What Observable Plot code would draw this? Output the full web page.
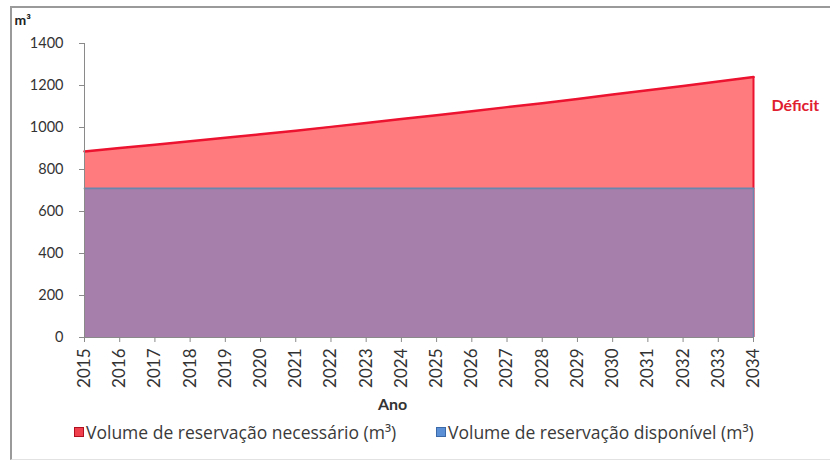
<!DOCTYPE html>
<html><head><meta charset="utf-8">
<script src="https://cdn.jsdelivr.net/npm/d3@7"></script>
<script src="https://cdn.jsdelivr.net/npm/@observablehq/plot@0.6"></script>
<style>
body{margin:0;background:#fff;font-family:Lato, "Open Sans", sans-serif;}
#wrap{position:relative;width:830px;height:467px;overflow:hidden;}
#frame{position:absolute;left:10px;top:6px;width:830px;height:451px;border-top:2px solid #9a9a9a;border-left:2px solid #9a9a9a;border-bottom:1px solid #e2e2e2;}
#chart{position:absolute;left:0;top:0;}
#legend{position:absolute;top:421px;left:0;width:830px;height:22px;font-size:17.5px;font-family:"Open Sans", Lato, sans-serif;color:#3a3a3a;}
.item{position:absolute;top:0;display:flex;align-items:center;height:22px;white-space:nowrap;}
.sw{width:8px;height:8px;margin-right:2px;}
</style></head>
<body><div id="wrap"><div id="frame"></div><div id="chart"></div><div id="legend"></div></div>
<script>
const years = [2015,2016,2017,2018,2019,2020,2021,2022,2023,2024,2025,2026,2027,2028,2029,2030,2031,2032,2033,2034];
const necessario = [886,902,918,934,951,968,985,1003,1021,1040,1058,1077,1097,1116,1136,1157,1177,1198,1219,1240];
const disponivel = [710,710,710,710,710,710,710,710,710,710,710,710,710,710,710,710,710,710,710,710];
const yTicks = [0,200,400,600,800,1000,1200,1400];
const seriesNames = ["Volume de reservação necessário (m³)","Volume de reservação disponível (m³)"];
const redFill = "#ff7b7d", redLine = "#ec1330", purpleFill = "#a67fab", blueLine = "#6a86ad";

const rows = years.map((y,i)=>({ano:y, nec:necessario[i], disp:disponivel[i]}));

const chart = Plot.plot({
  width: 830, height: 415,
  marginLeft: 84, marginRight: 77, marginTop: 43, marginBottom: 78,
  style: {fontFamily: "Lato, 'Open Sans', sans-serif", color: "#333", background: "transparent"},
  x: {type: "linear", domain: [2015, 2034]},
  y: {domain: [0, 1400]},
  marks: [
    Plot.areaY(rows, {x: "ano", y: "nec", fill: redFill}),
    Plot.lineY(rows, {x: "ano", y: "nec", stroke: redLine, strokeWidth: 2.5}),
    Plot.ruleX([2034], {y1: 0, y2: necessario[necessario.length-1], stroke: redLine, strokeWidth: 2}),
    Plot.areaY(rows, {x: "ano", y: "disp", fill: purpleFill}),
    Plot.lineY(rows, {x: "ano", y: "disp", stroke: blueLine, strokeWidth: 1.8}),
    Plot.ruleX([2034], {y1: 0, y2: disponivel[disponivel.length-1], stroke: blueLine, strokeWidth: 1.5}),
    Plot.ruleY([0], {stroke: "#8a8a8a", strokeWidth: 1}),
    Plot.ruleX([2015], {y1: 0, y2: 1400, stroke: "#8a8a8a", strokeWidth: 1}),
    Plot.axisY({ticks: yTicks, tickFormat: d => String(d), tickSize: 5, tickPadding: 16, fontSize: 14.5, stroke: "#8a8a8a", fill: "#333", label: null}),
    Plot.axisX({ticks: years, tickFormat: d => String(d), tickRotate: -90, tickSize: 5, tickPadding: 6, fontSize: 17, stroke: "#8a8a8a", fill: "#333", label: null}),
    Plot.text(["Ano"], {frameAnchor: "bottom", x: 2023.75, dy: 72, fontWeight: "bold", fontSize: 16, fill: "#333"}),
    Plot.text(["m³"], {frameAnchor: "top-left", dx: -70, dy: -28, textAnchor: "start", fontWeight: "bold", fontSize: 14, fill: "#222"}),
    Plot.text(["Déficit"], {x: 2034, y: 1105, dx: 18, textAnchor: "start", fontWeight: "bold", fontSize: 16, fill: "#e0202f"})
  ]
});
document.getElementById("chart").appendChild(chart);

const legend = document.getElementById("legend");
const items = [
  {name: seriesNames[0], left: 74, fill: "#f0404e", border: "#b01020"},
  {name: seriesNames[1], left: 436, fill: "#5b8fd6", border: "#3c6aa8"}
];
for (const it of items) {
  const d = document.createElement("div");
  d.className = "item";
  d.style.left = it.left + "px";
  const s = document.createElement("span");
  s.className = "sw";
  s.style.background = it.fill;
  s.style.border = "1px solid " + it.border;
  d.appendChild(s);
  d.appendChild(document.createTextNode(it.name));
  legend.appendChild(d);
}
</script>
</body></html>
